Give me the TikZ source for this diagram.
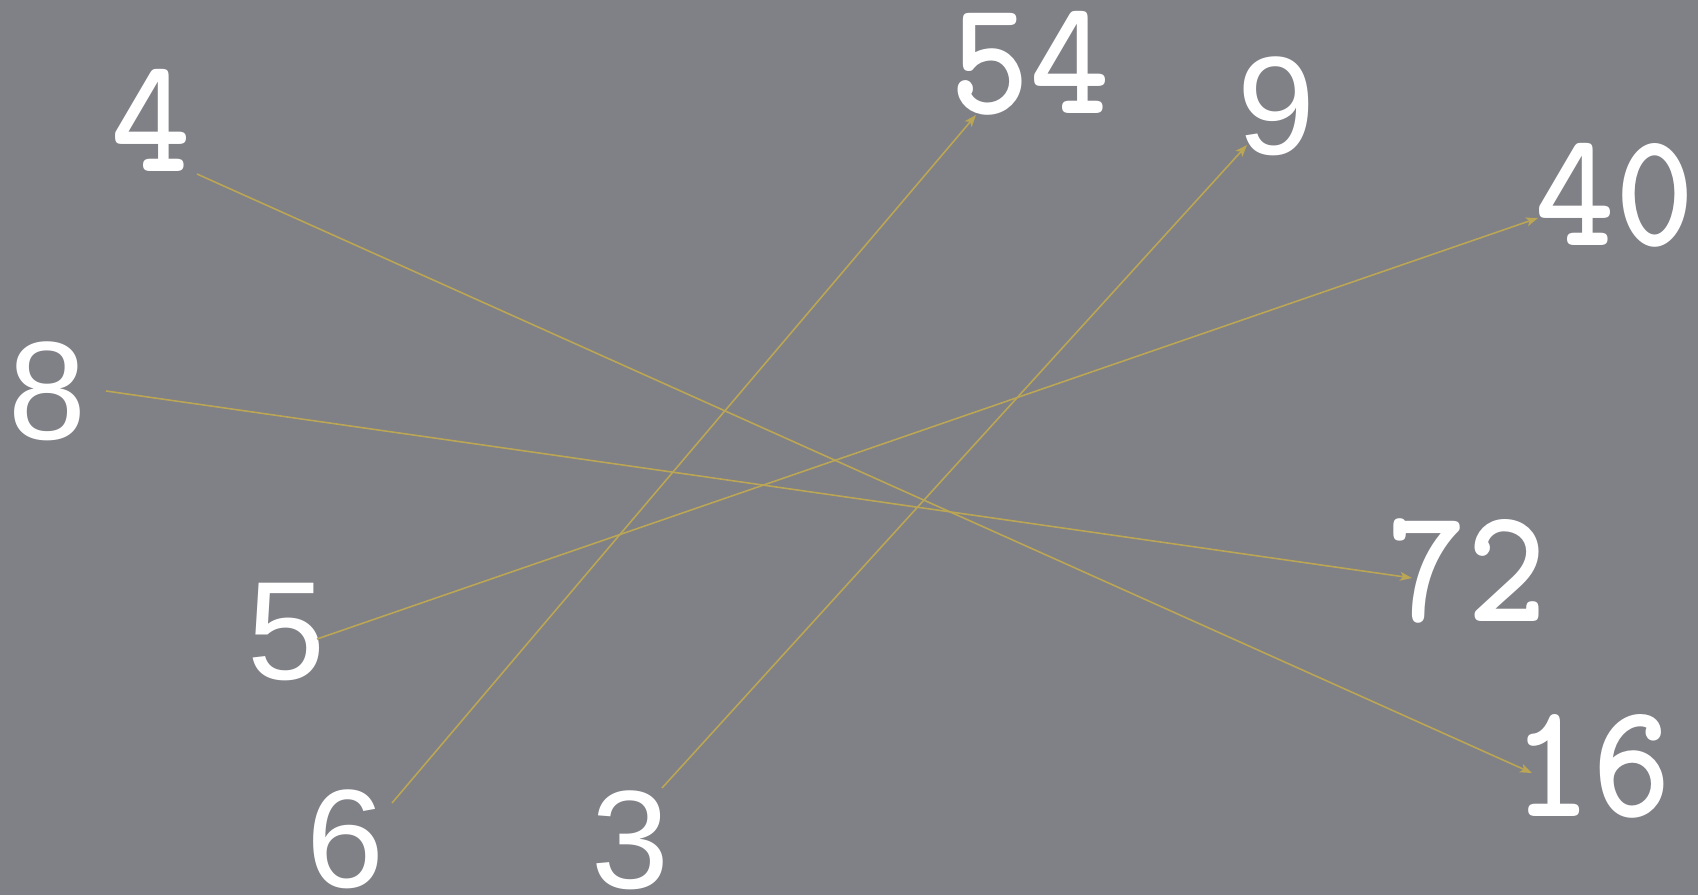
\documentclass[tikz,border=0pt]{standalone}
\usepackage{fontspec}
\usetikzlibrary{arrows.meta}
\newfontfamily\numsans{Liberation Sans}
\newfontfamily\nummono[Extension=.otf,FakeStretch=0.92]{lmmonolt10-bold}
\definecolor{bgc}{RGB}{128,128,135}
\definecolor{goldc}{RGB}{186,166,84}
\tikzset{
  sansnum/.style={text=white, inner sep=0pt, font=\numsans\fontsize{70}{70}\selectfont},
  mononum/.style={text=white, inner sep=0pt, font=\nummono\fontsize{82}{82}\selectfont},
  link/.style={draw=goldc, line width=0.8pt, -{Stealth[length=6pt,width=4.5pt,inset=1.5pt]}}
}
\begin{document}
\begin{tikzpicture}[x=0.5pt,y=-0.5pt]
\fill[bgc] (0,0) rectangle (1698,895);
\useasboundingbox (0,0) rectangle (1698,895);
% numbers
\node[mononum] (n4)  at (151,120) {4};
\node[mononum] (n54) at (1030,63) {54};
\node[sansnum] (n9)  at (1276,106) {9};
\node[mononum] (n40) at (1615,195) {40};
\node[sansnum] (n8)  at (47,391) {8};
\node[mononum] (n72) at (1467,571) {72};
\node[sansnum] (n5)  at (286,632) {5};
\node[mononum] (n16) at (1592,766) {16};
\node[sansnum] (n6)  at (345,839) {6};
\node[sansnum] (n3)  at (630,840) {3};
% connector end points
\coordinate (s4)  at (197,174);
\coordinate (e16) at (1532,773);
\coordinate (s8)  at (106,391);
\coordinate (e72) at (1412,578);
\coordinate (s5)  at (317,639);
\coordinate (e40) at (1538,218);
\coordinate (s6)  at (392,803);
\coordinate (e54) at (976,115);
\coordinate (s3)  at (662,788);
\coordinate (e9)  at (1247,145);
% connectors
\draw[link] (s4) -- (e16);
\draw[link] (s8) -- (e72);
\draw[link] (s5) -- (e40);
\draw[link] (s6) -- (e54);
\draw[link] (s3) -- (e9);
\end{tikzpicture}
\end{document}
